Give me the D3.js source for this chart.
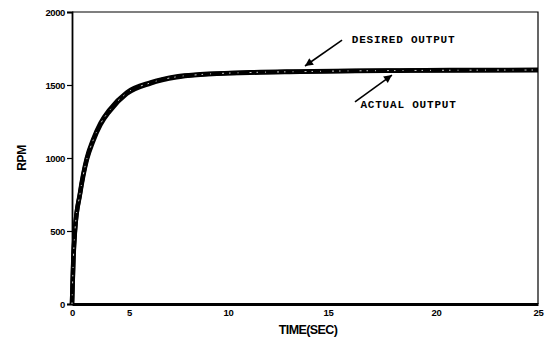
<!DOCTYPE html>
<html>
<head>
<meta charset="utf-8">
<script src="https://cdn.jsdelivr.net/npm/d3@7"></script>
<style>
  body { margin: 0; background: #fff; }
  svg { display: block; }
  .tick text { font-family: "Liberation Sans", Arial, sans-serif; font-weight: bold; font-size: 9.5px; letter-spacing: -0.4px; }
  .note { font-family: "Liberation Mono", "Courier New", monospace; font-weight: bold; font-size: 11px; }
</style>
</head>
<body>
<div id="chart"></div>
<script>
// values
const timeSec = [0, 0.12, 0.26, 0.7, 1.3, 1.84, 2.5, 3.3, 4.8, 6.1, 7.4, 8.6, 11.1, 13.6, 16.3, 18.3, 20.7, 25];
const desiredRpm = [0, 300, 500, 760, 1000, 1125, 1240, 1332, 1449, 1518, 1559, 1573, 1587, 1593, 1598, 1600, 1602, 1604];
const actualRpm = [0, 320, 505, 750, 988, 1112, 1228, 1320, 1440, 1512, 1553, 1570, 1584, 1590, 1596, 1598, 1600, 1601];
const xTicks = [0, 5, 10, 15, 20, 25];
const yTicks = [0, 500, 1000, 1500, 2000];

const width = 551;
const height = 339;

const svg = d3.select("#chart")
    .append("svg")
    .attr("width", width)
    .attr("height", height);

// the printed axis is unevenly spaced, so the scale follows the printed tick spots
const x = d3.scaleLinear()
    .domain(xTicks)
    .range([72, 129, 228, 328, 436, 538]);

const y = d3.scaleLinear()
    .domain([0, 2000])
    .range([304, 12]);

// frame
svg.append("path")
    .attr("d", `M${x(0)},${y(2000)}H${x(25)}V${y(0)}`)
    .attr("fill", "none")
    .attr("stroke", "#000")
    .attr("stroke-width", 1.2);

const yAxis = svg.append("g")
    .attr("transform", `translate(${x(0)},0)`)
    .call(d3.axisLeft(y).tickValues(yTicks).tickSize(5).tickPadding(2).tickFormat(d3.format("d")));
yAxis.select(".domain").attr("stroke-width", 1.8);
yAxis.selectAll(".tick line").attr("stroke-width", 1.2);

const xAxis = svg.append("g")
    .attr("transform", `translate(0,${y(0)})`)
    .call(d3.axisBottom(x).tickValues(xTicks).tickSize(0).tickPadding(5));
xAxis.select(".domain").attr("stroke-width", 3.2);

svg.append("text")
    .attr("transform", `translate(26,${y(1000)}) rotate(-90)`)
    .attr("text-anchor", "middle")
    .attr("font-family", "Liberation Sans, Arial, sans-serif")
    .attr("font-size", 12)
    .attr("font-weight", "bold")
    .attr("letter-spacing", -0.4)
    .text("RPM");

svg.append("text")
    .attr("x", 308)
    .attr("y", 334)
    .attr("text-anchor", "middle")
    .attr("font-family", "Liberation Sans, Arial, sans-serif")
    .attr("font-size", 12.5)
    .attr("font-weight", "bold")
    .attr("letter-spacing", -0.6)
    .text("TIME(SEC)");

const line = d3.line()
    .x((d, i) => x(timeSec[i]))
    .y(d => y(d))
    .curve(d3.curveMonotoneX);

svg.append("path")
    .datum(desiredRpm)
    .attr("d", line)
    .attr("fill", "none")
    .attr("stroke", "#000")
    .attr("stroke-width", 4.5);

svg.append("path")
    .datum(actualRpm)
    .attr("d", line)
    .attr("fill", "none")
    .attr("stroke", "#000")
    .attr("stroke-width", 4.5);

// speckle between the two traces
svg.append("path")
    .datum(desiredRpm.map((d, i) => (d + actualRpm[i]) / 2))
    .attr("d", line)
    .attr("fill", "none")
    .attr("stroke", "#fff")
    .attr("stroke-width", 0.8)
    .attr("stroke-dasharray", "1.5 7 1 11 2 5");

// annotations
svg.append("defs").append("marker")
    .attr("id", "head")
    .attr("viewBox", "0 0 10 10")
    .attr("refX", 10)
    .attr("refY", 5)
    .attr("markerWidth", 11)
    .attr("markerHeight", 8)
    .attr("markerUnits", "userSpaceOnUse")
    .attr("orient", "auto")
    .append("path")
    .attr("d", "M0,0L10,5L0,10Z")
    .attr("fill", "#000");

const notes = [
    { label: "DESIRED OUTPUT", tx: 16.1, ty: 1790, fx: 15.65, fy: 1808, ax: 13.85, ay: 1630 },
    { label: "ACTUAL OUTPUT", tx: 16.5, ty: 1340, fx: 16.25, fy: 1384, ax: 17.96, ay: 1568 }
];

notes.forEach(n => {
    svg.append("line")
        .attr("x1", x(n.fx)).attr("y1", y(n.fy))
        .attr("x2", x(n.ax)).attr("y2", y(n.ay))
        .attr("stroke", "#000")
        .attr("stroke-width", 1.6)
        .attr("marker-end", "url(#head)");
    svg.append("text")
        .attr("class", "note")
        .attr("x", x(n.tx))
        .attr("y", y(n.ty))
        .attr("letter-spacing", 0.8)
        .text(n.label);
});
</script>
</body>
</html>
